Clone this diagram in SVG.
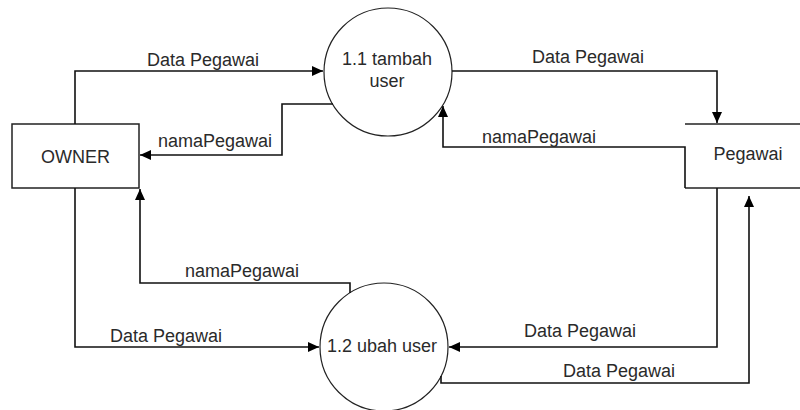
<svg xmlns="http://www.w3.org/2000/svg" width="800" height="410" viewBox="0 0 800 410">
<style>
  text { font-family: "Liberation Sans", Arial, sans-serif; font-size: 18px; fill: #2a2a2a; }
  .shape { fill: #fff; stroke: #222; stroke-width: 1.5; }
  .proc { fill: #fff; stroke: #222; stroke-width: 1.2; }
  .conn { fill: none; stroke: #111; stroke-width: 1.6; }
  .store { stroke: #222; stroke-width: 1.6; }
</style>
<defs>
  <marker id="arr" markerWidth="12" markerHeight="10" refX="11" refY="5" orient="auto" markerUnits="userSpaceOnUse">
    <path d="M0,0 L11,5 L0,10 Z" fill="#000"/>
  </marker>
</defs>
<rect width="800" height="410" fill="#fff"/>

<g id="owner">
  <rect class="shape" x="12" y="124" width="127" height="64"/>
  <text x="75.5" y="163" text-anchor="middle">OWNER</text>
</g>

<g id="p11">
  <circle class="proc" cx="388" cy="72" r="64"/>
  <text x="387" y="65" text-anchor="middle">1.1 tambah</text>
  <text x="387" y="87" text-anchor="middle">user</text>
</g>

<g id="p12">
  <circle class="proc" cx="384" cy="347" r="64"/>
  <text x="382" y="352" text-anchor="middle">1.2 ubah user</text>
</g>

<g id="pegawai">
  <line class="store" x1="685" y1="124" x2="800" y2="124"/>
  <line class="store" x1="685" y1="188" x2="800" y2="188"/>
  <text x="748" y="160" text-anchor="middle">Pegawai</text>
</g>

<g id="connectors">
  <path class="conn" d="M75,124 V71 H323" marker-end="url(#arr)"/>
  <path class="conn" d="M333,104 H282 V155 H140" marker-end="url(#arr)"/>
  <path class="conn" d="M452,71 H717 V123" marker-end="url(#arr)"/>
  <path class="conn" d="M685,188 V147 H443 V106" marker-end="url(#arr)"/>
  <path class="conn" d="M75,188 V347 H319" marker-end="url(#arr)"/>
  <path class="conn" d="M350,293 V283 H140 V189" marker-end="url(#arr)"/>
  <path class="conn" d="M717,188 V347 H449" marker-end="url(#arr)"/>
  <path class="conn" d="M441,376 V383 H749 V196" marker-end="url(#arr)"/>

  <text x="147" y="66">Data Pegawai</text>
  <text x="158" y="147">namaPegawai</text>
  <text x="532" y="63">Data Pegawai</text>
  <text x="482" y="143">namaPegawai</text>
  <text x="185" y="277">namaPegawai</text>
  <text x="110" y="342">Data Pegawai</text>
  <text x="524" y="337">Data Pegawai</text>
  <text x="563" y="377">Data Pegawai</text>
</g>
</svg>
